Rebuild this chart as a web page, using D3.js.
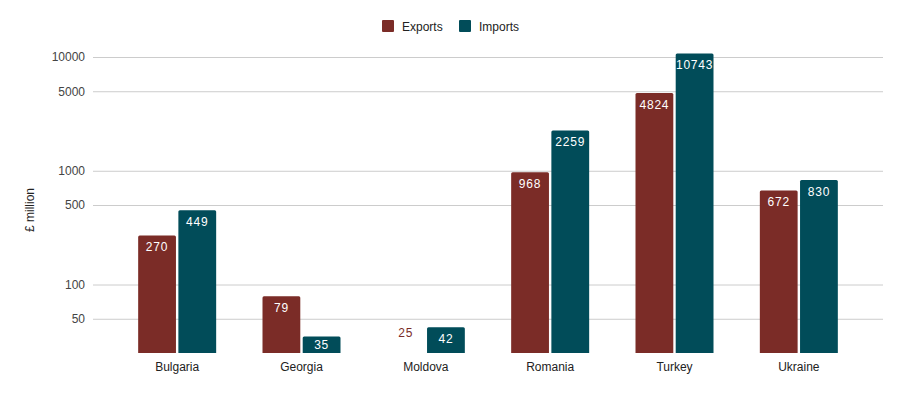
<!DOCTYPE html>
<html>
<head>
<meta charset="utf-8">
<script src="https://cdn.jsdelivr.net/npm/d3@7"></script>
<style>
  body { margin: 0; background: #fff; }
  text { font-family: Arial, "Liberation Sans", sans-serif; }
</style>
</head>
<body>
<div id="chart"></div>
<script>
const width = 903
const height = 393

const countries = ["Bulgaria", "Georgia", "Moldova", "Romania", "Turkey", "Ukraine"]
const exportsData = [270, 79, 25, 968, 4824, 672]
const importsData = [449, 35, 42, 2259, 10743, 830]
const yTicks = [50, 100, 500, 1000, 5000, 10000]
const seriesNames = ["Exports", "Imports"]
const colors = ["#7b2c27", "#014c59"]

const plot = { left: 93, right: 883, top: 57, bottom: 353 }

const svg = d3.select("#chart").append("svg")
    .attr("width", width)
    .attr("height", height)

const y = d3.scaleLog().domain([25, 10000]).range([plot.bottom, plot.top])

const x = d3.scaleBand().domain(countries).range([115, 861]).paddingInner(0).paddingOuter(0)
const xInner = d3.scaleBand().domain(seriesNames).range([0, 78]).paddingInner(0.06)
const groupOffset = (x.bandwidth() - 78) / 2

// grid lines
const yAxis = d3.axisLeft(y).tickValues(yTicks).tickFormat(d3.format("d"))
    .tickSize(-(plot.right - plot.left)).tickPadding(8)
svg.append("g")
    .attr("transform", `translate(${plot.left},0)`)
    .call(yAxis)
    .call(g => g.select(".domain").remove())
    .call(g => g.selectAll(".tick line").attr("stroke", "#cccccc"))
    .call(g => g.selectAll(".tick text").attr("fill", "#444").style("font-size", "12px"))

// y axis title
svg.append("text")
    .attr("transform", "translate(34,210) rotate(-90)")
    .attr("text-anchor", "middle")
    .attr("fill", "#222")
    .style("font-size", "12px")
    .text("£ million")

// bars
const rows = countries.map((c, i) => ({ country: c, values: [exportsData[i], importsData[i]] }))

const groups = svg.append("g").selectAll("g")
    .data(rows)
    .join("g")
    .attr("transform", d => `translate(${x(d.country) + groupOffset},0)`)

const bars = groups.selectAll("g")
    .data(d => d.values.map((v, j) => ({ name: seriesNames[j], value: v, color: colors[j] })))
    .join("g")

bars.append("path")
    .attr("fill", d => d.color)
    .attr("d", d => {
        const x0 = xInner(d.name), w = xInner.bandwidth()
        const top = y(d.value), h = plot.bottom - top
        if (h <= 0) return ""
        const r = Math.min(1.5, h)
        return `M${x0},${plot.bottom}V${top + r}Q${x0},${top} ${x0 + r},${top}H${x0 + w - r}Q${x0 + w},${top} ${x0 + w},${top + r}V${plot.bottom}Z`
    })

bars.append("text")
    .attr("x", d => xInner(d.name) + xInner.bandwidth() / 2)
    .attr("y", d => {
        const top = y(d.value)
        const h = plot.bottom - top
        if (h < 4) return plot.bottom - 16
        return Math.min(top + 16, top + h / 2 + 4)
    })
    .attr("text-anchor", "middle")
    .attr("fill", d => (plot.bottom - y(d.value) < 4) ? d.color : "#fff")
    .style("font-size", "12px")
    .style("letter-spacing", "0.8px")
    .text(d => d.value)

// x axis labels
svg.append("g")
    .attr("transform", `translate(0,${plot.bottom})`)
    .call(d3.axisBottom(x).tickSize(0).tickPadding(9))
    .call(g => g.select(".domain").remove())
    .call(g => g.selectAll(".tick text").attr("fill", "#222").style("font-size", "12px"))

// legend
const legend = svg.append("g").attr("transform", "translate(382,20)")
const legendItems = legend.selectAll("g")
    .data(seriesNames)
    .join("g")
    .attr("transform", (d, i) => `translate(${i * 77},0)`)
legendItems.append("rect")
    .attr("width", 12).attr("height", 12).attr("rx", 1)
    .attr("fill", (d, i) => colors[i])
legendItems.append("text")
    .attr("x", 20).attr("y", 10.5)
    .attr("fill", "#222")
    .style("font-size", "12px")
    .text(d => d)
</script>
</body>
</html>
